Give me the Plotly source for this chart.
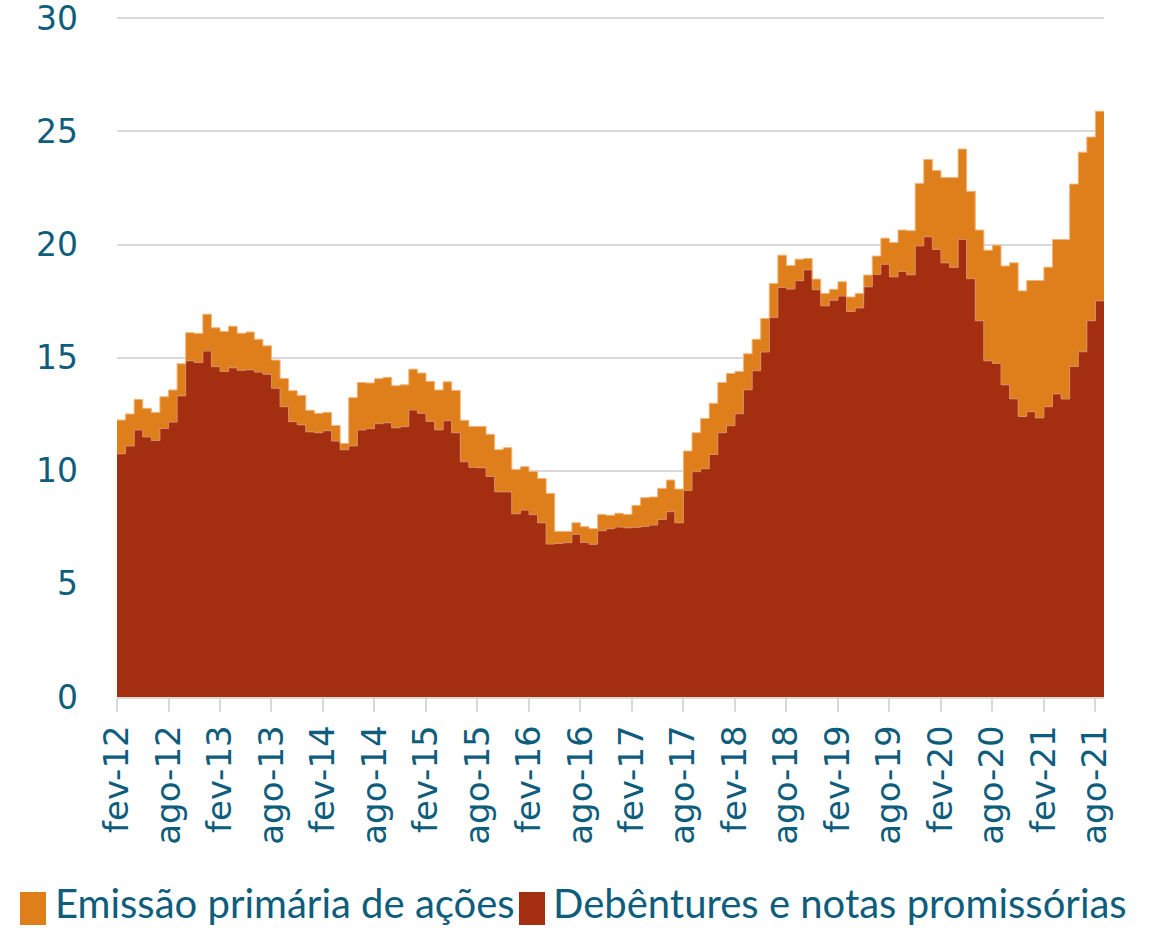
import plotly.graph_objects as go

# ---- data (monthly, fev-12 .. ago-21) ----
debentures = [
    10.75, 11.09, 11.80, 11.49, 11.34, 11.87, 12.15, 13.31, 14.86, 14.79,
    15.29, 14.60, 14.39, 14.55, 14.44, 14.46, 14.36, 14.27, 13.65, 12.83,
    12.17, 12.03, 11.72, 11.68, 11.77, 11.31, 10.93, 11.10, 11.80, 11.86,
    12.08, 12.12, 11.90, 11.95, 12.68, 12.54, 12.18, 11.81, 12.21, 11.68,
    10.40, 10.15, 10.13, 9.75, 9.07, 9.07, 8.10, 8.26, 8.06, 7.70,
    6.76, 6.79, 6.82, 7.19, 6.83, 6.75, 7.35, 7.44, 7.51, 7.48,
    7.50, 7.54, 7.60, 7.85, 8.19, 7.70, 9.13, 9.96, 10.09, 10.72,
    11.68, 11.99, 12.52, 13.58, 14.42, 15.25, 16.78, 18.10, 18.03, 18.40,
    18.88, 18.00, 17.29, 17.54, 17.72, 17.04, 17.20, 18.13, 18.68, 19.13,
    18.57, 18.81, 18.66, 19.94, 20.34, 19.78, 19.19, 18.99, 20.22, 18.49,
    16.63, 14.86, 14.74, 13.80, 13.18, 12.40, 12.61, 12.34, 12.83, 13.40,
    13.17, 14.61, 15.26, 16.63, 17.51,
]
acoes = [
    1.49, 1.42, 1.35, 1.27, 1.24, 1.40, 1.42, 1.42, 1.24, 1.28,
    1.63, 1.72, 1.77, 1.84, 1.64, 1.67, 1.45, 1.25, 1.24, 1.25,
    1.37, 1.30, 0.95, 0.86, 0.81, 0.69, 0.28, 2.13, 2.10, 2.02,
    1.99, 2.01, 1.86, 1.85, 1.81, 1.78, 1.77, 1.76, 1.72, 1.87,
    1.83, 1.81, 1.83, 1.86, 1.86, 1.95, 1.96, 1.92, 1.91, 1.96,
    2.24, 0.53, 0.50, 0.51, 0.70, 0.69, 0.72, 0.59, 0.61, 0.59,
    0.97, 1.27, 1.24, 1.37, 1.40, 1.49, 1.74, 1.72, 2.22, 2.26,
    2.22, 2.31, 1.87, 1.59, 1.39, 1.48, 1.50, 1.43, 1.04, 0.95,
    0.50, 0.47, 0.55, 0.48, 0.63, 0.64, 0.64, 0.52, 0.81, 1.15,
    1.52, 1.83, 1.95, 2.76, 3.42, 3.49, 3.77, 3.97, 4.00, 3.86,
    4.01, 4.89, 5.23, 5.25, 6.01, 5.55, 5.80, 6.07, 6.17, 6.82,
    7.05, 8.06, 8.82, 8.12, 8.38,
]
tick_labels = ["fev-12", "ago-12", "fev-13", "ago-13", "fev-14", "ago-14",
               "fev-15", "ago-15", "fev-16", "ago-16", "fev-17", "ago-17",
               "fev-18", "ago-18", "fev-19", "ago-19", "fev-20", "ago-20",
               "fev-21", "ago-21"]
series_names = ["Emissão primária de ações", "Debêntures e notas promissórias"]

# ---- styling ----
ORANGE = "#DF7F1B"
RED = "#A32F10"
TEXT = "#0E5D7C"
GRID = "#D9D9D9"

n = len(debentures)
x = list(range(n)) + [n]            # extra point closes the last step
deb = debentures + [debentures[-1]]
aco = acoes + [acoes[-1]]

fig = go.Figure()
fig.add_trace(go.Scatter(
    x=x, y=deb, name=series_names[1], stackgroup="s", mode="lines",
    line=dict(shape="hv", color="#D98A62", width=1), fillcolor=RED,
    showlegend=False, hoverinfo="skip"))
fig.add_trace(go.Scatter(
    x=x, y=aco, name=series_names[0], stackgroup="s", mode="lines",
    line=dict(shape="hv", color="#F2B47A", width=1), fillcolor=ORANGE,
    showlegend=False, hoverinfo="skip"))

# the page body margin is removed (post_script) -> figure fills the window
W, H = 1150, 928
L, R, T, B = 117, 46, 16, 231
pw, ph = W - L - R, H - T - B


def px(xp):
    return (xp - L) / pw


def py(yp):
    return (H - B - yp) / ph


# manual legend (squares + text), positions in window pixels
legend_items = [(20, 46, 53, series_names[0], ORANGE),
                (519, 545, 551, series_names[1], RED)]
for x0, x1, xt, label, col in legend_items:
    fig.add_shape(type="rect", xref="paper", yref="paper",
                  x0=px(x0), x1=px(x1), y0=py(925), y1=py(892),
                  fillcolor=col, line=dict(width=0))
    fig.add_annotation(xref="paper", yref="paper", x=px(xt), y=py(903),
                       text=label, showarrow=False, xanchor="left",
                       yanchor="middle",
                       font=dict(family="Lato", size=40, color=TEXT))

fig.update_layout(
    width=W, height=H,
    margin=dict(l=L, r=R, t=T, b=B, autoexpand=False),
    paper_bgcolor="white", plot_bgcolor="white",
    showlegend=False,
)
fig.update_xaxes(
    range=[0, n], tickmode="array",
    tickvals=list(range(0, n, 6)), ticktext=tick_labels,
    tickangle=-90, ticks="outside", ticklen=13, tickwidth=1.5,
    tickcolor=GRID, showline=True, linecolor=GRID, linewidth=1.5,
    showgrid=False, zeroline=False, automargin=False,
    tickfont=dict(family="DejaVu Sans", size=34, color=TEXT),
)
fig.update_yaxes(
    range=[0, 30.1], tickmode="array", tickvals=[0, 5, 10, 15, 20, 25, 30],
    showgrid=True, gridcolor=GRID, gridwidth=1.5,
    zeroline=False, showline=False, ticks="", automargin=False,
    ticklabelstandoff=38, ticklabeloverflow="allow",
    tickfont=dict(family="DejaVu Sans", size=33, color=TEXT),
)

fig.write_html(
    "out.html",
    config={"displayModeBar": False},
    post_script="document.body.style.margin='0';"
                "document.body.style.overflow='hidden';",
)
